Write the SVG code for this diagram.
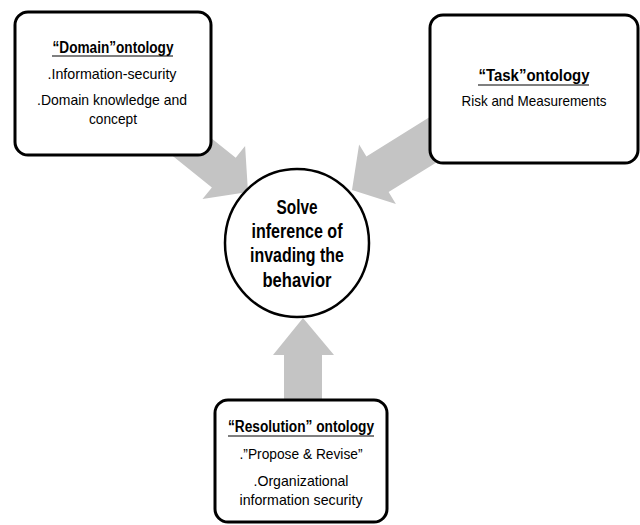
<svg xmlns="http://www.w3.org/2000/svg" width="640" height="525" viewBox="0 0 640 525">
<style>
.box{fill:#fff;stroke:#000;stroke-width:3}
.arrow{fill:#c4c4c4;stroke:none}
text{font-family:"Liberation Sans",Arial,sans-serif;fill:#000;text-anchor:middle}
.t{font-weight:bold;font-size:16px}
.b{font-size:14.5px}
.c{font-weight:bold;font-size:19.5px}
.ul{stroke:#000;stroke-width:1.2}
</style>
<rect width="640" height="525" fill="#fff"/>
<g id="connectors">
<polygon class="arrow" points="141.7,131.1 211.9,187.4 202.5,199.1 248,192 245.1,146.1 235.7,157.8 165.5,101.5"/>
<polygon class="arrow" points="473.6,139.4 388.6,192.1 395.9,203.9 352,190 359.1,144.4 366.4,156.4 451.4,103.6"/>
<polygon class="arrow" points="284,402 284,355 273,355 303,318 334,355 322,355 322,402"/>
</g>
<g id="domain">
<rect class="box" x="15" y="12" width="196" height="143" rx="13"/>
<text class="t" x="113" y="53" textLength="121" lengthAdjust="spacingAndGlyphs">“Domain”ontology</text>
<line class="ul" x1="52" y1="56" x2="173" y2="56"/>
<text class="b" x="112" y="79" textLength="129" lengthAdjust="spacingAndGlyphs">.Information-security</text>
<text class="b" x="112" y="105" textLength="150" lengthAdjust="spacingAndGlyphs">.Domain knowledge and</text>
<text class="b" x="113" y="124" textLength="48" lengthAdjust="spacingAndGlyphs">concept</text>
</g>
<g id="task">
<rect class="box" x="430" y="15" width="208" height="148" rx="13"/>
<text class="t" x="534" y="81" textLength="111" lengthAdjust="spacingAndGlyphs">“Task”ontology</text>
<line class="ul" x1="478" y1="85" x2="589" y2="85"/>
<text class="b" x="534" y="106" textLength="145" lengthAdjust="spacingAndGlyphs">Risk and Measurements</text>
</g>
<g id="center">
<ellipse cx="297" cy="243" rx="72" ry="74" fill="#fff" stroke="#000" stroke-width="2.5"/>
<text class="c" x="297" y="214" textLength="41" lengthAdjust="spacingAndGlyphs">Solve</text>
<text class="c" x="297" y="238" textLength="91" lengthAdjust="spacingAndGlyphs">inference of</text>
<text class="c" x="297" y="262" textLength="94" lengthAdjust="spacingAndGlyphs">invading the</text>
<text class="c" x="297" y="287" textLength="69" lengthAdjust="spacingAndGlyphs">behavior</text>
</g>
<g id="resolution">
<rect class="box" x="215" y="400" width="172" height="122" rx="13"/>
<text class="t" x="301" y="432" textLength="146" lengthAdjust="spacingAndGlyphs">“Resolution” ontology</text>
<line class="ul" x1="228" y1="436" x2="374" y2="436"/>
<text class="b" x="301" y="459" textLength="123" lengthAdjust="spacingAndGlyphs">.”Propose &amp; Revise”</text>
<text class="b" x="301" y="486" textLength="95" lengthAdjust="spacingAndGlyphs">.Organizational</text>
<text class="b" x="301" y="505" textLength="123" lengthAdjust="spacingAndGlyphs">information security</text>
</g>
</svg>
